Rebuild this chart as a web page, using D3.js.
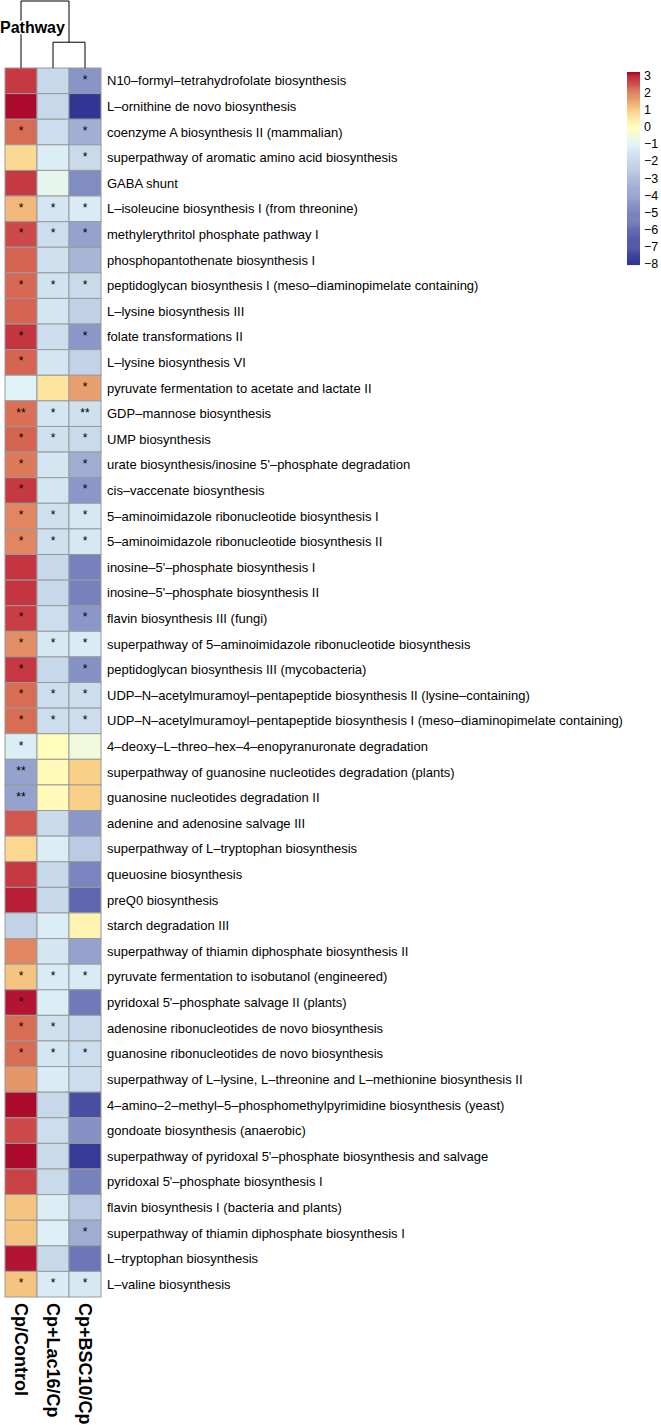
<!DOCTYPE html>
<html><head><meta charset="utf-8">
<script src="https://cdn.jsdelivr.net/npm/d3@7"></script>
<style>
body{margin:0;background:#fff}
svg{display:block}
text{font-family:"Liberation Sans",Arial,Helvetica,sans-serif;fill:#000}
</style>
</head><body>
<svg id="chart" width="661" height="1425"></svg>
<script>
const pathways = [
"N10–formyl–tetrahydrofolate biosynthesis",
"L–ornithine de novo  biosynthesis",
"coenzyme A biosynthesis II (mammalian)",
"superpathway of aromatic amino acid biosynthesis",
"GABA shunt",
"L–isoleucine biosynthesis I (from threonine)",
"methylerythritol phosphate pathway I",
"phosphopantothenate biosynthesis I",
"peptidoglycan biosynthesis I (meso–diaminopimelate containing)",
"L–lysine biosynthesis III",
"folate transformations II",
"L–lysine biosynthesis VI",
"pyruvate fermentation to acetate and lactate II",
"GDP–mannose biosynthesis",
"UMP biosynthesis",
"urate biosynthesis/inosine 5'–phosphate degradation",
"cis–vaccenate biosynthesis",
"5–aminoimidazole ribonucleotide biosynthesis I",
"5–aminoimidazole ribonucleotide biosynthesis II",
"inosine–5'–phosphate biosynthesis I",
"inosine–5'–phosphate biosynthesis II",
"flavin biosynthesis III (fungi)",
"superpathway of 5–aminoimidazole ribonucleotide biosynthesis",
"peptidoglycan biosynthesis III (mycobacteria)",
"UDP–N–acetylmuramoyl–pentapeptide biosynthesis II (lysine–containing)",
"UDP–N–acetylmuramoyl–pentapeptide biosynthesis I (meso–diaminopimelate containing)",
"4–deoxy–L–threo–hex–4–enopyranuronate degradation",
"superpathway of guanosine nucleotides degradation (plants)",
"guanosine nucleotides degradation II",
"adenine and adenosine salvage III",
"superpathway of L–tryptophan biosynthesis",
"queuosine biosynthesis",
"preQ0 biosynthesis",
"starch degradation III",
"superpathway of thiamin diphosphate biosynthesis II",
"pyruvate fermentation to isobutanol (engineered)",
"pyridoxal 5'–phosphate salvage II (plants)",
"adenosine ribonucleotides de novo biosynthesis",
"guanosine ribonucleotides de novo biosynthesis",
"superpathway of L–lysine, L–threonine and L–methionine biosynthesis II",
"4–amino–2–methyl–5–phosphomethylpyrimidine biosynthesis (yeast)",
"gondoate biosynthesis (anaerobic)",
"superpathway of pyridoxal 5'–phosphate biosynthesis and salvage",
"pyridoxal 5'–phosphate biosynthesis I",
"flavin biosynthesis I (bacteria and plants)",
"superpathway of thiamin diphosphate biosynthesis I",
"L–tryptophan biosynthesis",
"L–valine biosynthesis"
];

const columns = ["Cp/Control", "Cp+Lac16/Cp", "Cp+BSC10/Cp"];

const valuesCpControl = [2.8, 3.15, 2.2, 0.8, 2.8, 1.3, 2.6, 2.3, 2.25, 2.3, 2.85, 2.3, -1.0, 2.15, 2.3, 2.05, 2.8, 1.9, 1.9, 2.85, 2.85, 2.75, 1.8, 2.8, 2.2, 2.2, -1.2, -4.0, -4.0, 2.45, 0.85, 2.8, 3.05, -2.2, 1.9, 1.15, 3.1, 2.2, 2.2, 1.7, 3.15, 2.6, 3.15, 2.7, 1.15, 1.15, 3.1, 1.15];
const valuesLac16 = [-2.0, -2.0, -1.8, -1.2, -0.8, -1.5, -1.8, -1.7, -1.6, -1.5, -1.8, -1.5, 0.6, -1.5, -1.7, -1.5, -1.5, -1.7, -1.7, -2.0, -2.0, -1.8, -1.4, -2.0, -1.8, -1.8, 0.05, 0.1, 0.1, -1.9, -1.2, -2.0, -2.0, -1.2, -1.5, -1.3, -1.2, -1.7, -1.5, -1.3, -2.0, -1.8, -1.9, -1.9, -1.2, -1.1, -2.0, -1.3];
const valuesBSC10 = [-4.5, -8.0, -3.5, -1.9, -4.8, -1.3, -4.0, -3.3, -1.9, -2.3, -4.4, -2.2, 1.6, -1.7, -1.9, -3.6, -4.4, -1.4, -1.4, -5.2, -5.2, -4.4, -1.3, -4.6, -1.8, -1.8, -0.5, 1.0, 1.0, -4.4, -2.5, -5.1, -6.2, 0.25, -4.0, -1.3, -5.5, -2.0, -1.8, -1.8, -7.1, -4.6, -7.8, -5.2, -2.5, -3.6, -5.6, -1.4];

const starsCpControl = ["","","*","","","*","*","","*","","*","*","","**","*","*","*","*","*","","","*","*","*","*","*","*","**","**","","","","","","","*","*","*","*","","","","","","","","","*"];
const starsLac16     = ["","","","","","*","*","","*","","","","","*","*","","","*","*","","","","*","","*","*","","","","","","","","","","*","","*","*","","","","","","","","","*"];
const starsBSC10     = ["*","","*","*","","*","*","","*","","*","","*","**","*","*","*","*","*","","","*","*","*","*","*","","","","","","","","","","*","","","*","","","","","","","*","","*"];

const legendTicks = [3, 2, 1, 0, -1, -2, -3, -4, -5, -6, -7, -8];
const legendRange = [-8.05, 3.2];

// column dendrogram merges (height units)
const dendroMerges = [
  {a: "Cp+Lac16/Cp", b: "Cp+BSC10/Cp", h: 1.0},
  {a: "Cp/Control", b: 0, h: 2.6}
];

const colorStops = [-8, -1, 0, 1, 2, 3, 3.2];
const colorRange = ["#313695", "#E0F3F8", "#FFFFBF", "#FAD088", "#DE7E5C", "#C0283C", "#A50026"];

const valueSeries = [valuesCpControl, valuesLac16, valuesBSC10];
const starSeries = [starsCpControl, starsLac16, starsBSC10];

const svg = d3.select("#chart");
const color = d3.scaleLinear().domain(colorStops).range(colorRange).clamp(true);
const x = d3.scaleBand().domain(columns).range([5, 101]);
const y = d3.scaleBand().domain(pathways).range([68, 1297]);

const cells = [];
columns.forEach((c, ci) => {
  pathways.forEach((p, pi) => {
    cells.push({col: c, row: p, v: valueSeries[ci][pi], s: starSeries[ci][pi]});
  });
});

const g = svg.append("g");
g.selectAll("rect.cell").data(cells).join("rect")
  .attr("class", "cell")
  .attr("x", d => x(d.col))
  .attr("y", d => y(d.row))
  .attr("width", x.bandwidth())
  .attr("height", y.bandwidth())
  .attr("fill", d => color(d.v))
  .attr("stroke", "#9a9a9a")
  .attr("stroke-width", 1);

g.selectAll("text.star").data(cells.filter(d => d.s)).join("text")
  .attr("class", "star")
  .attr("x", d => x(d.col) + x.bandwidth() / 2)
  .attr("y", d => y(d.row) + y.bandwidth() / 2 + 3)
  .attr("text-anchor", "middle")
  .attr("font-size", 12)
  .text(d => d.s);

// row labels
svg.append("g").selectAll("text").data(pathways).join("text")
  .attr("x", 107)
  .attr("y", d => y(d) + y.bandwidth() / 2)
  .attr("dy", "0.35em")
  .attr("font-size", 13)
  .text(d => d);

// column labels
svg.append("g").selectAll("text").data(columns).join("text")
  .attr("transform", d => `translate(${x(d) + x.bandwidth() / 2},1303) rotate(90)`)
  .attr("dy", "0.35em")
  .attr("font-size", 18)
  .attr("font-weight", "bold")
  .text(d => d);

// dendrogram
const hScale = d3.scaleLinear().domain([0, 2.6]).range([68, 1]);
const nodes = [];
function pos(k) {
  if (typeof k === "number") return nodes[k];
  return {x: x(k) + x.bandwidth() / 2, y: hScale(0)};
}
const dg = svg.append("g").attr("fill", "none").attr("stroke", "#000").attr("stroke-width", 1);
dendroMerges.forEach(m => {
  const A = pos(m.a), B = pos(m.b), yy = hScale(m.h);
  const p = d3.path();
  p.moveTo(A.x, A.y); p.lineTo(A.x, yy); p.lineTo(B.x, yy); p.lineTo(B.x, B.y);
  dg.append("path").attr("d", p.toString());
  nodes.push({x: (A.x + B.x) / 2, y: yy});
});

svg.append("text")
  .attr("x", 0).attr("y", 33)
  .attr("font-size", 16).attr("font-weight", "bold")
  .attr("stroke", "#fff").attr("stroke-width", 3).attr("paint-order", "stroke")
  .text("Pathway");

// legend
const yL = d3.scaleLinear().domain(legendRange).range([264.6, 72]);
const lg = svg.append("g");
const steps = d3.range(0, 200).map(i => legendRange[0] + (legendRange[1] - legendRange[0]) * i / 200);
const stepH = (legendRange[1] - legendRange[0]) / 200;
lg.selectAll("rect").data(steps).join("rect")
  .attr("x", 627).attr("width", 13)
  .attr("y", d => yL(d + stepH))
  .attr("height", d => yL(d) - yL(d + stepH) + 0.5)
  .attr("fill", d => color(d + stepH / 2));
lg.selectAll("text").data(legendTicks).join("text")
  .attr("x", 644)
  .attr("y", d => yL(d))
  .attr("dy", "0.35em")
  .attr("font-size", 12.5)
  .text(d => d < 0 ? "−" + Math.abs(d) : String(d));
</script>
</body></html>
